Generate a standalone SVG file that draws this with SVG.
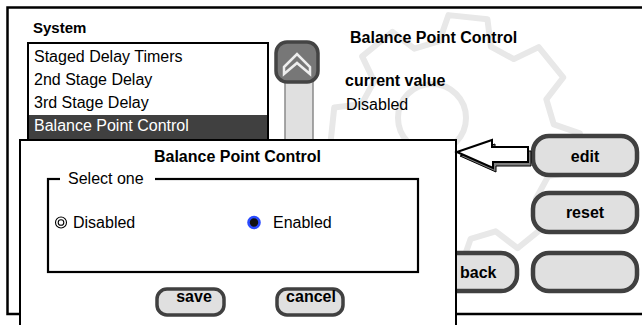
<svg xmlns="http://www.w3.org/2000/svg" width="642" height="325" viewBox="0 0 642 325">
<style>
text{font-family:"Liberation Sans",Arial,sans-serif;font-size:16px;fill:#000}
.b{font-weight:bold}
.c{text-anchor:middle}
.btn{fill:#e0e0e0;stroke:#404040;stroke-width:4.5}
.sbtn{fill:#e0e0e0;stroke:#404040;stroke-width:3.5}
.gear{fill:none;stroke:#e8e8e8;stroke-width:6;stroke-linejoin:round}
</style>
<rect x="0" y="0" width="642" height="325" fill="#fff"/>
<g id="watermark">
<path class="gear" transform="translate(455,140) rotate(6)" d="M-25.9,-96.6 L-19.6,-123.5 L19.6,-123.5 L25.9,-96.6 L50,-86.6 L73.5,-101.1 L101.1,-73.5 L86.6,-50 L96.6,-25.9 L123.5,-19.6 L123.5,19.6 L96.6,25.9 L86.6,50 L101.1,73.5 L73.5,101.1 L50,86.6 L25.9,96.6 L19.6,123.5 L-19.6,123.5 L-25.9,96.6 L-50,86.6 L-73.5,101.1 L-101.1,73.5 L-86.6,50 L-96.6,25.9 L-123.5,19.6 L-123.5,-19.6 L-96.6,-25.9 L-86.6,-50 L-101.1,-73.5 L-73.5,-101.1 L-50,-86.6 Z"/>
<circle class="gear" cx="432" cy="118" r="34"/>
</g>
<g id="frame">
<rect x="7.5" y="7.5" width="700" height="306.5" fill="none" stroke="#000" stroke-width="2.5"/>
</g>
<g id="system-list">
<text class="b" x="33" y="33" style="font-size:15px">System</text>
<rect x="28" y="43" width="240" height="110" fill="#fff" stroke="#000" stroke-width="2"/>
<text x="34" y="62">Staged Delay Timers</text>
<text x="34" y="85">2nd Stage Delay</text>
<text x="34" y="108">3rd Stage Delay</text>
<rect x="29" y="115" width="238" height="37" fill="#404040"/>
<text x="34" y="131" style="fill:#fff">Balance Point Control</text>
</g>
<g id="scrollbar">
<rect x="285" y="76" width="28" height="70" fill="#e0e0e0" stroke="#8a8a8a" stroke-width="1.5"/>
<rect x="276" y="42" width="42" height="40" rx="11" fill="#777" stroke="#444" stroke-width="3.5"/>
<polygon points="284,67 297,54 310,67 310,74 297,63 284,74" fill="none" stroke="#eee" stroke-width="2.5" stroke-linejoin="miter"/>
</g>
<g id="current-panel">
<text class="b" x="350" y="43">Balance Point Control</text>
<text class="b" x="345" y="86">current value</text>
<text x="346" y="110">Disabled</text>
</g>
<g id="edit-button">
<rect class="btn" x="533" y="136" width="104" height="39" rx="16"/>
<text class="b c" x="585" y="162">edit</text>
</g>
<g id="reset-button">
<rect class="btn" x="533" y="193" width="104" height="39" rx="16"/>
<text class="b c" x="585" y="218">reset</text>
</g>
<g id="back-button">
<rect class="btn" x="420" y="253" width="97" height="38" rx="16"/>
<text class="b" x="460" y="278">back</text>
</g>
<g id="blank-button">
<rect class="btn" x="533" y="253" width="104" height="38" rx="16"/>
</g>
<g id="dialog">
<rect x="20" y="140" width="436" height="200" fill="#fff" stroke="#000" stroke-width="2"/>
<text class="b c" x="237.5" y="162">Balance Point Control</text>
<rect x="48" y="179" width="370" height="93" fill="none" stroke="#000" stroke-width="2.2"/>
<rect x="60" y="172" width="95" height="14" fill="#fff"/>
<text x="68" y="184">Select one</text>
<circle cx="61" cy="222.5" r="5.5" fill="none" stroke="#000" stroke-width="1.1"/>
<circle cx="61" cy="222.5" r="2.8" fill="none" stroke="#000" stroke-width="1.1"/>
<text x="73" y="228">Disabled</text>
<circle cx="254" cy="222.5" r="5.5" fill="#111" stroke="#2a4bff" stroke-width="2.6"/>
<text x="273" y="228">Enabled</text>
</g>
<g id="save-button">
<rect class="sbtn" x="157" y="289" width="67" height="26" rx="10"/>
<text class="b c" x="194" y="302">save</text>
</g>
<g id="cancel-button">
<rect class="sbtn" x="277" y="289" width="66" height="26" rx="10"/>
<text class="b c" x="311" y="302">cancel</text>
</g>
<g id="connectors">
<polygon points="460,156 495,144 495,151 531,151 531,166 496,166 496,172" fill="#808080" stroke="#000" stroke-width="1"/>
<polygon points="457,152 492,140 492,147 528,147 528,162 493,162 493,168" fill="#fff" stroke="#000" stroke-width="2" stroke-linejoin="miter"/>
</g>
</svg>
